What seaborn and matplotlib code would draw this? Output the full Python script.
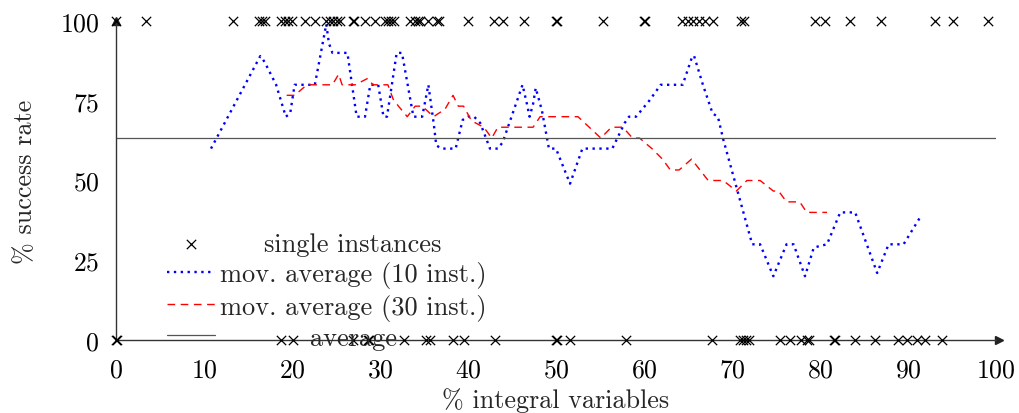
import matplotlib
matplotlib.use("Agg")
import matplotlib.pyplot as plt
import seaborn as sns
import pandas as pd

# instances: x position of successes (100 %) and failures (0 %)
success_x = [0, 3.4, 13.3, 16.3, 16.6, 16.9, 18.8, 19.2, 19.6, 20.0, 21.5, 22.6,
             23.9, 24.3, 24.7, 25.1, 25.5, 26.9, 27.0, 28.3, 29.4, 30.6, 30.9,
             31.2, 31.6, 33.4, 34.0, 34.3, 34.6, 35.5, 36.5, 36.7, 40.0, 43.0,
             44.0, 46.4, 50.0, 50.1, 55.4, 60.0, 60.1, 64.3, 65.0, 65.6, 66.3,
             66.9, 67.8, 71.0, 71.4, 79.4, 80.6, 83.4, 86.9, 93.1, 95.1, 99.1]
fail_x = [0, 0.1, 18.8, 20.1, 26.9, 28.6, 28.7, 32.7, 35.2, 35.7, 38.3, 39.5,
          43.1, 50.0, 50.1, 51.6, 58.0, 67.7, 70.9, 71.3, 71.6, 71.9, 75.5,
          76.6, 77.8, 78.5, 78.8, 81.6, 81.7, 84.0, 86.3, 88.9, 89.9, 91.0,
          91.9, 93.9]

# moving average over 10 instances
ma10_x = [10.8, 16.4, 16.7, 17.1, 18.2, 19.3, 19.8, 20.3, 22.6, 23.9, 24.2, 24.6,
          26.3, 27.35, 28.3, 28.9, 29.8, 30.4, 30.8, 31.9, 32.5, 33.8, 34.8,
          35.5, 36.1, 36.4, 37.0, 38.6, 39.4, 40.0, 40.7, 41.4, 42.5, 43.4,
          43.95, 45.7, 46.2, 46.7, 47.0, 47.4, 47.7, 48.4, 49.2, 50.0, 51.6,
          53.0, 56.4, 57.8, 58.3, 59.1, 60.6, 61.9, 64.4, 65.5, 65.7, 66.7,
          67.8, 68.4, 69.0, 72.3, 73.2, 74.7, 76.2, 77.0, 78.3, 79.3, 80.8,
          82.3, 84.0, 86.5, 87.8, 89.5, 91.5]
ma10_y = [60, 89, 88, 86, 80, 70, 71, 80, 80, 99, 93, 90,
          90, 70, 70, 80, 80, 70, 70, 90, 90, 70, 70,
          80, 68, 61, 60, 60, 69, 70, 70, 68, 60, 60,
          62, 76, 80, 74, 70, 74, 79, 72, 60, 60, 49,
          60, 60, 68, 70, 70, 75, 80, 80, 89, 89, 80,
          71, 70, 63, 30, 30, 20, 30, 30, 20, 29, 30,
          40, 40, 21, 30, 30, 39]

# moving average over 30 instances
ma30_x = [19.4, 20.3, 21.7, 24.6, 25.3, 25.7, 27.2, 28.6, 29.2, 30.9, 31.5, 32.1,
          32.5, 33.1, 34.0, 34.8, 36.1, 37.4, 38.3, 38.9, 39.5, 40.4, 41.8,
          42.7, 43.4, 47.4, 48.2, 52.5, 55.1, 56.3, 57.6, 58.7, 59.5, 60.9,
          62.1, 63.0, 64.0, 65.4, 67.3, 69.0, 70.5, 71.7, 73.2, 74.7, 75.3,
          76.2, 77.7, 78.5, 80.8]
ma30_y = [76.7, 76.7, 80, 80, 83.3, 80, 80, 82, 80, 80, 75.5, 73.3,
          72, 70, 73.3, 73.3, 70, 72.4, 76.7, 73.3, 73.3, 68.7, 66.7,
          63.3, 66.7, 66.7, 70, 70, 63.3, 66.7, 66.7, 63.3, 63.3, 60,
          56.7, 53.3, 53.3, 56.7, 50, 50, 46.7, 50, 50, 46.7, 46.7,
          43.3, 43.3, 40, 40]

overall_avg = 63.3

inst = pd.DataFrame({
    "x": success_x + fail_x,
    "y": [100] * len(success_x) + [0] * len(fail_x),
})

sns.set_theme(style="white")
plt.rcParams["font.family"] = ["cmr10", "DejaVu Serif"]
plt.rcParams["axes.formatter.use_mathtext"] = True
plt.rcParams["mathtext.fontset"] = "cm"

fig = plt.figure(figsize=(10.19, 4.14), dpi=100)
ax = fig.add_axes([0.1138, 0.1763, 0.8636, 0.7706])

sns.scatterplot(data=inst, x="x", y="y", marker="x", color="black", s=45,
                linewidth=0.9, ax=ax, clip_on=False, zorder=5,
                label="single instances")
sns.lineplot(x=ma10_x, y=ma10_y, sort=False, estimator=None, color="blue",
             linestyle=(0, (1, 1.9)), linewidth=1.7, ax=ax,
             label="mov. average (10 inst.)")
sns.lineplot(x=ma30_x, y=ma30_y, sort=False, estimator=None, color="red",
             linestyle=(0, (5.5, 4)), linewidth=1.0, ax=ax,
             label="mov. average (30 inst.)")
ax.axhline(overall_avg, color="#555555", linewidth=0.9, label="average")

ax.set_xlim(0, 100)
ax.set_ylim(0, 100)
ax.set_xticks([0, 10, 20, 30, 40, 50, 60, 70, 80, 90, 100])
ax.set_yticks([0, 25, 50, 75, 100])
ax.tick_params(axis="both", labelsize=18.5, colors="#999999", length=8,
               width=0.9, direction="out", labelcolor="black")
ax.tick_params(axis="x", pad=5)
ax.tick_params(axis="y", pad=4)

for side in ["top", "right"]:
    ax.spines[side].set_visible(False)
for side in ["left", "bottom"]:
    ax.spines[side].set_color("#333333")
    ax.spines[side].set_linewidth(1.0)

# axis arrow heads
ax.plot(1.003, 0, ">", color="#222222", markersize=6,
        transform=ax.get_yaxis_transform(), clip_on=False)
ax.plot(0, 1.0, "^", color="#222222", markersize=6,
        transform=ax.get_xaxis_transform(), clip_on=False)

ax.set_xlabel("% integral variables", fontsize=18.8, labelpad=4)
ax.set_ylabel("% success rate", fontsize=18.8, labelpad=16)

leg = ax.legend(loc="lower left", bbox_to_anchor=(0.058, -0.03), frameon=False,
                fontsize=19, handlelength=1.8, labelspacing=0.2, borderpad=0,
                borderaxespad=0, handletextpad=0.2)

# pgfplots-like: short entries centred in the text column
fig.canvas.draw()
renderer = fig.canvas.get_renderer()
texts = leg.get_texts()
widths = [t.get_window_extent(renderer).width for t in texts]
maxw = max(widths)
for t, w in zip(texts, widths):
    if t.get_text() in ("single instances", "average"):
        t.set_x((maxw - w) / 2)

fig.savefig("out.png", dpi=100)
